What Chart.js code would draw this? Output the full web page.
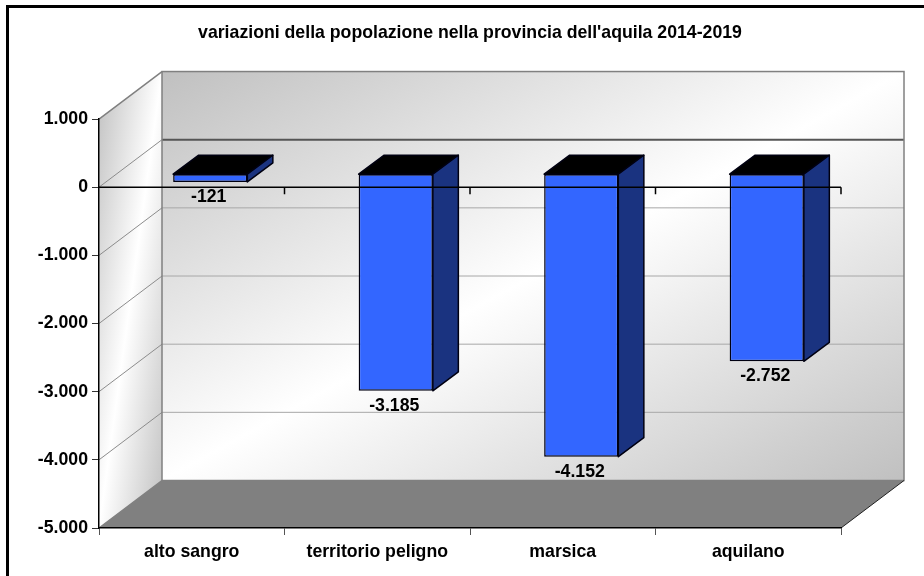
<!DOCTYPE html>
<html><head><meta charset="utf-8">
<style>html,body{margin:0;padding:0;background:#fff}#w{width:924px;height:576px;position:relative}</style>
<script src="https://cdn.jsdelivr.net/npm/chart.js@4"></script>
</head><body><div id="w"><canvas id="c" width="924" height="576"></canvas></div>
<script>
const titleText = "variazioni della popolazione nella provincia dell'aquila 2014-2019";
const categories = ["alto sangro","territorio peligno","marsica","aquilano"];
const values = [-121,-3185,-4152,-2752];
const yTicks = [1000,0,-1000,-2000,-3000,-4000,-5000];

const FONT = '"Liberation Sans", Arial, sans-serif';
const FS = 17.7;
const fmt = v => String(v).replace(/\B(?=(\d{3})(?!\d))/g,'.');
const DX = 63, DY = -47.5;      // wall depth
const BX = 18.5, BY = -13.5;    // bar front-face offset
const SX = 25.5, SY = -19;      // bar depth

// corner-to-corner diagonal gradient: the middle stop runs through the other two corners
function diag(c,x,y,w,h,edge,mid){
  const cx=x+w/2, cy=y+h/2, len=Math.hypot(w,h);
  const ux=h/len, uy=w/len, half=(w/2)*ux+(h/2)*uy;
  const g=c.createLinearGradient(cx-ux*half,cy-uy*half,cx+ux*half,cy+uy*half);
  g.addColorStop(0,edge);g.addColorStop(.5,mid);g.addColorStop(1,edge);
  return g;
}

const scene = {
  id:'scene',
  beforeDraw(ch){
    const c=ch.ctx, a=ch.chartArea, y=ch.scales.y;
    const L=a.left,R=a.right,T=a.top,B=a.bottom;
    c.save();
    c.fillStyle='#fff'; c.fillRect(0,0,ch.width,ch.height);
    // left wall
    c.beginPath();c.moveTo(L,T);c.lineTo(L+DX,T+DY);c.lineTo(L+DX,B+DY);c.lineTo(L,B);c.closePath();
    c.fillStyle=diag(c,L,T+DY,DX,B-T-DY,'#c0c0c0','#ffffff');c.fill();
    // back wall
    c.fillStyle=diag(c,L+DX,T+DY,R-L,B-T,'#c0c0c0','#ffffff');
    c.fillRect(L+DX,T+DY,R-L,B-T);
    // grid lines
    y.ticks.forEach(t=>{
      const p=y.getPixelForValue(t.value);
      if(t.value===y.max||t.value===y.min) return;
      c.beginPath();c.moveTo(L,p);c.lineTo(L+DX,p+DY);c.strokeStyle='#8c8c8c';c.lineWidth=1;c.stroke();
      c.beginPath();c.moveTo(L+DX,p+DY);c.lineTo(R+DX,p+DY);
      if(t.value===0){c.strokeStyle='#555';c.lineWidth=2;}else{c.strokeStyle='#a8a8a8';c.lineWidth=1;}
      c.stroke();
    });
    // floor
    c.beginPath();c.moveTo(L,B);c.lineTo(R,B);c.lineTo(R+DX,B+DY);c.lineTo(L+DX,B+DY);c.closePath();
    c.fillStyle='#808080';c.fill();
    c.strokeStyle='#808080';c.lineWidth=1.5;
    c.strokeRect(L+DX,T+DY,R-L,B-T);
    c.beginPath();c.moveTo(L,T);c.lineTo(L+DX,T+DY);c.moveTo(L,B);c.lineTo(L+DX,B+DY);c.stroke();
    c.beginPath();c.moveTo(R,B);c.lineTo(R+DX,B+DY);c.strokeStyle='#222';c.lineWidth=1;c.stroke();
    // frame: top and left sides only
    c.fillStyle='#000';
    c.fillRect(6,5,ch.width-6,3);
    c.fillRect(6,5,3,ch.height-5);
    c.restore();
  },
  beforeDatasetsDraw(ch){
    ch.ctx.save();ch.ctx.translate(BX,BY);
  },
  afterDatasetsDraw(ch){
    const c=ch.ctx;
    c.restore();
    const meta=ch.getDatasetMeta(0), y=ch.scales.y, a=ch.chartArea;
    meta.data.forEach(el=>{
      const hw=el.width/2, xl=el.x-hw+BX, xr=el.x+hw+BX;
      const top=Math.min(el.y,el.base)+BY, bot=Math.max(el.y,el.base)+BY;
      c.lineWidth=1.5;c.strokeStyle='#000011';c.lineJoin='round';
      c.beginPath();c.moveTo(xl,top);c.lineTo(xl+SX,top+SY);c.lineTo(xr+SX,top+SY);c.lineTo(xr,top);c.closePath();
      c.fillStyle='#000';c.fill();c.stroke();
      c.beginPath();c.moveTo(xr,top);c.lineTo(xr+SX,top+SY);c.lineTo(xr+SX,bot+SY);c.lineTo(xr,bot);c.closePath();
      c.fillStyle='#1a3380';c.fill();c.stroke();
    });
    // zero axis line with ticks, drawn over the bars
    const z=y.getPixelForValue(0);
    c.strokeStyle='#000';c.lineWidth=1.5;
    c.beginPath();c.moveTo(a.left,z);c.lineTo(a.right,z);
    const n=categories.length,w=(a.right-a.left)/n;
    for(let i=1;i<=n;i++){c.moveTo(a.left+i*w,z);c.lineTo(a.left+i*w,z+7);}
    c.stroke();
    // value labels
    c.fillStyle='#000';c.font='bold '+FS+'px '+FONT;c.textAlign='center';c.textBaseline='middle';
    meta.data.forEach((el,i)=>{
      c.fillText(fmt(values[i]),el.x+BX-1.5,Math.max(el.y,el.base)+BY+15);
    });
  }
};

new Chart(document.getElementById('c'),{
  type:'bar',
  data:{labels:categories,datasets:[{data:values,backgroundColor:'#3366ff',borderColor:'#000011',borderWidth:1.5,barPercentage:.4,categoryPercentage:1,borderSkipped:false}]},
  plugins:[scene],
  options:{
    responsive:false,animation:false,
    layout:{padding:{left:0,right:83,top:0,bottom:0}},
    plugins:{
      legend:{display:false},tooltip:{enabled:false},
      title:{display:true,text:titleText,fullSize:false,color:'#000',
        font:{family:FONT,size:FS,weight:'bold',lineHeight:1.2},
        padding:{top:22,bottom:75.8}}
    },
    scales:{
      x:{offset:true,
        grid:{offset:true,drawOnChartArea:false,drawTicks:true,tickLength:7,color:'#555'},
        border:{color:'#000',width:1.5},
        ticks:{color:'#000',font:{family:FONT,size:FS,weight:'bold'},padding:6,maxRotation:0,autoSkip:false},
        afterFit(s){s.height=48;}},
      y:{min:yTicks[yTicks.length-1],max:yTicks[0],
        afterBuildTicks(s){s.ticks=yTicks.map(v=>({value:v}));},
        grid:{drawOnChartArea:false,drawTicks:true,tickLength:7,color:'#333'},
        border:{color:'#000',width:1.5},
        ticks:{color:'#000',font:{family:FONT,size:FS,weight:'bold'},padding:4,callback:v=>fmt(v)},
        afterFit(s){s.width=99;}}
    }
  }
});
</script></body></html>
